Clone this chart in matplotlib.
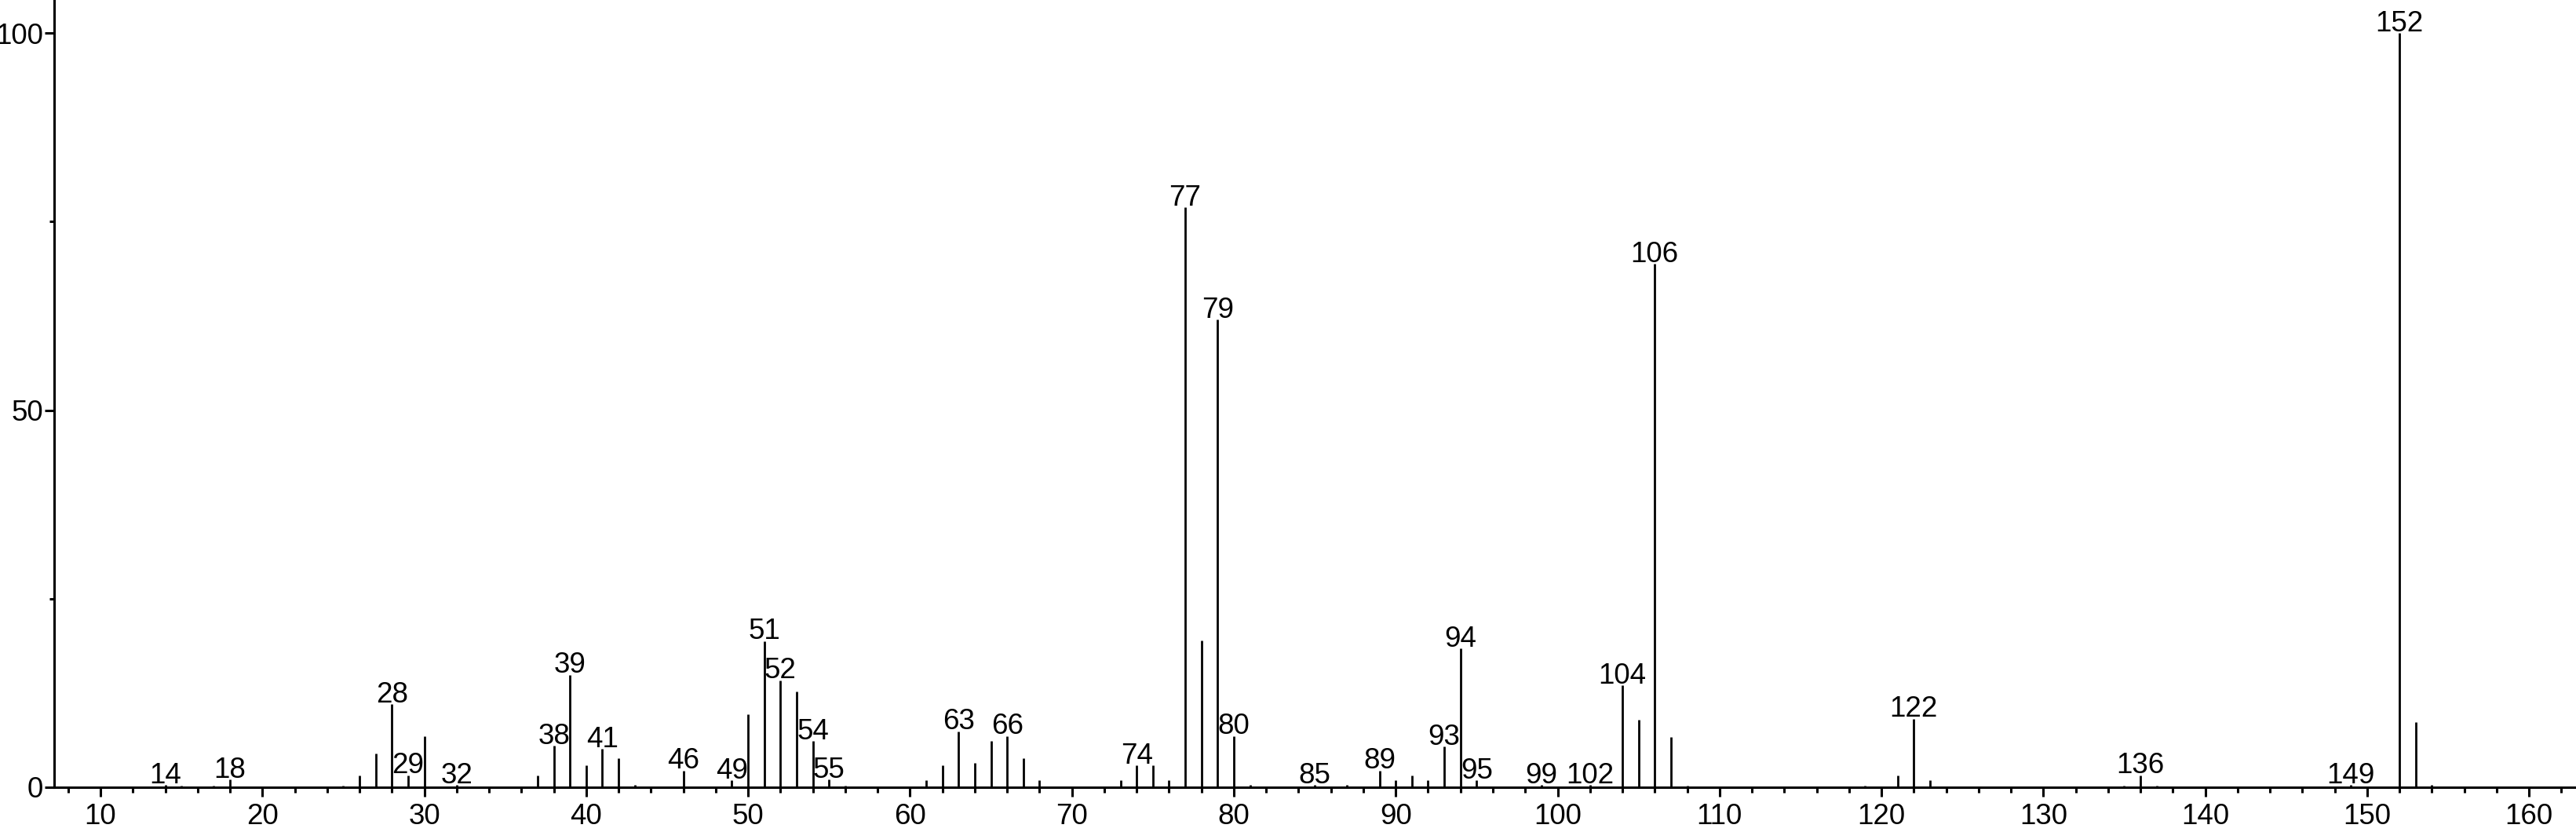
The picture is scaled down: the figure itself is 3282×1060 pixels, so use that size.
import matplotlib
matplotlib.use('Agg')
import matplotlib.pyplot as plt
from matplotlib.ticker import MultipleLocator
import numpy as np

plt.rcParams['font.family'] = ['Liberation Sans Narrow', 'Liberation Sans', 'DejaVu Sans']

# m/z and relative intensity
mz = [14, 15, 17, 18, 25, 26, 27, 28, 29, 30, 32,
      37, 38, 39, 40, 41, 42, 43, 46, 49, 50, 51, 52, 53, 54, 55, 56,
      61, 62, 63, 64, 65, 66, 67, 68, 73, 74, 75, 76, 77, 78, 79, 80, 81,
      85, 87, 89, 90, 91, 92, 93, 94, 95, 99, 102, 104, 105, 106, 107, 108,
      119, 121, 122, 123, 135, 136, 137, 149, 152, 153, 154]
intensity = [0.3, 0.2, 0.2, 1.0, 0.2, 1.6, 4.5, 11.0, 1.6, 6.8, 0.3,
             1.6, 5.5, 14.9, 2.9, 5.1, 3.9, 0.3, 2.2, 0.9, 9.7, 19.4, 14.2, 12.7, 6.1, 1.0, 0.2,
             0.9, 2.9, 7.4, 3.2, 6.1, 6.8, 3.9, 0.9, 0.9, 2.9, 2.9, 0.9, 76.9, 19.5, 62.0, 6.8, 0.3,
             0.3, 0.3, 2.2, 0.9, 1.6, 0.9, 5.4, 18.4, 0.9, 0.3, 0.3, 13.5, 9.0, 69.4, 6.7, 0.2,
             0.2, 1.6, 9.1, 0.9, 0.2, 1.6, 0.2, 0.3, 100.0, 8.6, 0.3]

# peaks that carry an m/z label
labeled = [14, 18, 28, 29, 32, 38, 39, 41, 46, 49, 51, 52, 54, 55, 63, 66,
           74, 77, 79, 80, 85, 89, 93, 94, 95, 99, 102, 104, 106, 122, 136, 149, 152]

xticks = np.arange(10, 161, 10)
yticks = [0, 50, 100]

fig = plt.figure(figsize=(32.82, 10.6), dpi=100)
ax = fig.add_axes([69/3282, 57/1060, 1 - 69/3282, 1 - 57/1060])

ax.vlines(mz, 0, intensity, color='black', lw=2.0)

lookup = dict(zip(mz, intensity))
for m in labeled:
    ax.annotate(str(m), (m, lookup[m]), xytext=(0, 1.8), textcoords='offset points',
                ha='center', va='baseline', fontsize=26.5)

ax.set_xlim(7.14, 162.9)
ax.set_ylim(0, 104.4)
ax.set_xticks(xticks)
ax.set_yticks(yticks)
ax.xaxis.set_minor_locator(MultipleLocator(2))
ax.yaxis.set_minor_locator(MultipleLocator(25))

for s in ['top', 'right']:
    ax.spines[s].set_visible(False)
for s in ['left', 'bottom']:
    ax.spines[s].set_linewidth(2.2)

ax.tick_params(axis='x', which='major', length=8.9, width=2.2, labelsize=26.5, pad=5.5)
ax.tick_params(axis='x', which='minor', length=4.8, width=2.2)
ax.tick_params(axis='y', which='major', length=8.6, width=2.2, labelsize=26.5, pad=1.5)
ax.tick_params(axis='y', which='minor', length=4.3, width=2.2)

fig.savefig('out.png', dpi=100)
